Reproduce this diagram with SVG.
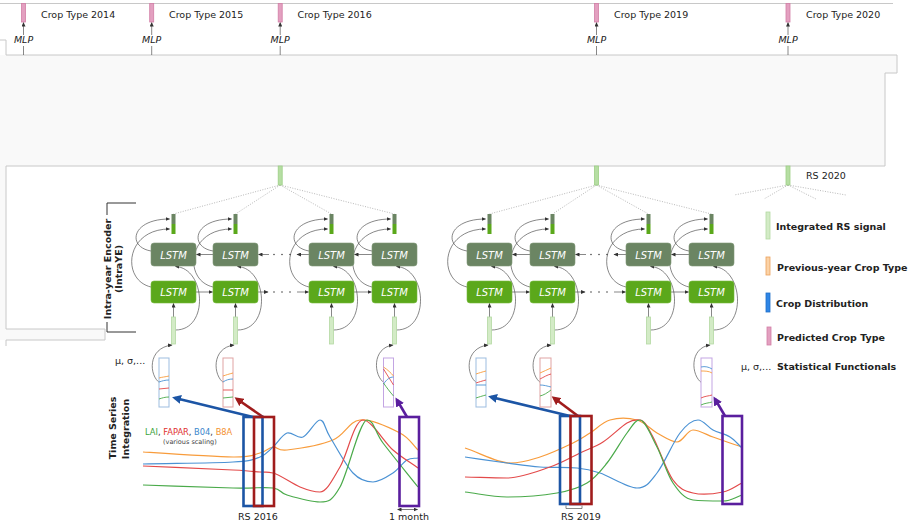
<svg xmlns="http://www.w3.org/2000/svg" width="908" height="522" viewBox="0 0 908 522">
<defs>
<style>
text{font-family:"DejaVu Sans",Verdana,sans-serif;fill:#222}
.lbl{font-size:9.5px}
.it{font-size:9.5px;font-style:italic}
.bold{font-size:9.5px;font-weight:bold}
.lstm{font-size:10px;font-style:italic;fill:#fff;text-anchor:middle}
.frame{fill:none;stroke:#c8c8c8;stroke-width:1}
.dkbox{fill:#6b8563;stroke:#7f9877;stroke-width:0.6}
.brbox{fill:#5ba81b;stroke:#78bb40;stroke-width:0.6}
.dkbar{fill:#6b8563}
.brbar{fill:#5ba81b}
.inbar{fill:#d3ebc6;stroke:#b3d9a2;stroke-width:0.8}
.rsbar{fill:#b6dea3;stroke:#9dcf86;stroke-width:0.8}
.pink{fill:#e3a0c0;stroke:#d27ea6;stroke-width:0.8}
.conn{fill:none;stroke:#555;stroke-width:0.7;marker-end:url(#ah)}
.plain{fill:none;stroke:#555;stroke-width:0.7}
.dot{fill:none;stroke:#999;stroke-width:0.7;stroke-dasharray:1 1.5}
.stat{fill:#fff;stroke-width:1}
.sig{fill:none;stroke-width:1.2}
.o{stroke:#f89c3c}.b{stroke:#4b92d4}.r{stroke:#e34a4a}.g{stroke:#4aaa4a}
.sl{fill:none;stroke-width:0.9}
.win{fill:none;stroke-width:2.6}
</style>
<marker id="ah" markerUnits="userSpaceOnUse" markerWidth="5" markerHeight="4" refX="4" refY="2" orient="auto"><path d="M0,0 L4.5,2 L0,4 z" fill="#333"/></marker>
<marker id="ahs" markerUnits="userSpaceOnUse" markerWidth="5" markerHeight="4" refX="0.5" refY="2" orient="auto-start-reverse"><path d="M0,0 L4.5,2 L0,4 z" fill="#333"/></marker>
<marker id="abl" markerUnits="userSpaceOnUse" markerWidth="10" markerHeight="9" refX="6" refY="4.5" orient="auto"><path d="M0,0 L9,4.5 L0,9 z" fill="#1c55a5"/></marker>
<marker id="ard" markerUnits="userSpaceOnUse" markerWidth="10" markerHeight="9" refX="6" refY="4.5" orient="auto"><path d="M0,0 L9,4.5 L0,9 z" fill="#a01c1c"/></marker>
<marker id="apu" markerUnits="userSpaceOnUse" markerWidth="10" markerHeight="9" refX="6" refY="4.5" orient="auto"><path d="M0,0 L9,4.5 L0,9 z" fill="#5a1e9e"/></marker>
</defs>

<rect width="908" height="522" fill="#fff"/>

<!-- inter-year panel background and outline -->
<g id="panel">
<polygon points="0,55 897,55 897,73 885,73 885,166 6,166 6,329 105,329 105,340 0,340" fill="#f9f9f9"/>
<rect x="6" y="166" width="879" height="163" fill="#fff"/>
<line x1="0" y1="3.5" x2="893" y2="3.5" class="frame"/>
<polyline class="frame" points="0,40 6,40 6,55 897,55 897,73 885,73 885,166 6,166 6,329 105,329 105,340 6,340 6,346"/>
</g>

<!-- connectors -->
<g id="connectors">
<!-- MLP heads -->
<g>
<path class="plain" d="M23.5,55 V46"/><path class="conn" d="M23.5,35 V22.5"/>
<path class="plain" d="M151.7,55 V46"/><path class="conn" d="M151.7,35 V22.5"/>
<path class="plain" d="M280.2,55 V46"/><path class="conn" d="M280.2,35 V22.5"/>
<path class="plain" d="M596.5,55 V46"/><path class="conn" d="M596.5,35 V22.5"/>
<path class="plain" d="M788,55 V46"/><path class="conn" d="M788,35 V22.5"/>
</g>
<!-- fan-out of integrated signal -->
<g>
<path class="dot" d="M280.2,185 L173.5,214 M280.2,185 L235.5,214 M280.2,185 L331.5,214 M280.2,185 L394.5,214"/>
<path class="dot" d="M596.5,185 L489.5,214 M596.5,185 L552.5,214 M596.5,185 L648.5,214 M596.5,185 L711.5,214"/>
<path class="dot" d="M788,185 L734,195 M788,185 L764,199 M788,185 L816,199 M788,185 L846,195"/>
</g>
<!-- LSTM outputs to hidden-state bars -->
<g>
<path class="conn" d="M151,251 C127,247 131,219 169.5,219"/>
<path class="conn" d="M213,251 C189,247 193,219 231.5,219"/>
<path class="conn" d="M309,251 C285,247 289,219 327.5,219"/>
<path class="conn" d="M372,251 C348,247 352,219 390.5,219"/>
<path class="conn" d="M467,251 C443,247 447,219 485.5,219"/>
<path class="conn" d="M530,251 C506,247 510,219 548.5,219"/>
<path class="conn" d="M626,251 C602,247 606,219 644.5,219"/>
<path class="conn" d="M689,251 C665,247 669,219 707.5,219"/>
<path class="conn" d="M151,287 C121,280 125,229 169.5,229"/>
<path class="conn" d="M213,287 C183,280 187,229 231.5,229"/>
<path class="conn" d="M309,287 C279,280 283,229 327.5,229"/>
<path class="conn" d="M372,287 C342,280 346,229 390.5,229"/>
<path class="conn" d="M467,287 C437,280 441,229 485.5,229"/>
<path class="conn" d="M530,287 C500,280 504,229 548.5,229"/>
<path class="conn" d="M626,287 C596,280 600,229 644.5,229"/>
<path class="conn" d="M689,287 C659,280 663,229 707.5,229"/>
</g>
<!-- inputs into both LSTM directions -->
<g>
<path class="conn" d="M173.5,317 V303.5"/><path class="conn" d="M235.5,317 V303.5"/>
<path class="conn" d="M331.5,317 V303.5"/><path class="conn" d="M394.5,317 V303.5"/>
<path class="conn" d="M489.5,317 V303.5"/><path class="conn" d="M552.5,317 V303.5"/>
<path class="conn" d="M648.5,317 V303.5"/><path class="conn" d="M711.5,317 V303.5"/>
<path class="conn" d="M175.5,330 C209.5,330 205.5,268 175.5,266.5"/>
<path class="conn" d="M237.5,330 C271.5,330 267.5,268 237.5,266.5"/>
<path class="conn" d="M333.5,330 C367.5,330 363.5,268 333.5,266.5"/>
<path class="conn" d="M396.5,330 C430.5,330 426.5,268 396.5,266.5"/>
<path class="conn" d="M491.5,330 C525.5,330 521.5,268 491.5,266.5"/>
<path class="conn" d="M554.5,330 C588.5,330 584.5,268 554.5,266.5"/>
<path class="conn" d="M650.5,330 C684.5,330 680.5,268 650.5,266.5"/>
<path class="conn" d="M713.5,330 C747.5,330 743.5,268 713.5,266.5"/>
</g>
<!-- recurrent links, forward (light) and backward (dark) -->
<g>
<path class="conn" d="M196,292 H212.5"/><path class="conn" d="M258,292 H268"/><path class="conn" d="M297,292 H308.5"/><path class="conn" d="M354,292 H371.5"/>
<path class="conn" d="M213,254.5 H196.5"/><path class="conn" d="M269,254.5 H258.5"/><path class="conn" d="M309,254.5 H297"/><path class="conn" d="M372,254.5 H354.5"/>
<path class="conn" d="M512,292 H529.5"/><path class="conn" d="M575,292 H585"/><path class="conn" d="M614,292 H625.5"/><path class="conn" d="M671,292 H688.5"/>
<path class="conn" d="M530,254.5 H512.5"/><path class="conn" d="M586,254.5 H575.5"/><path class="conn" d="M626,254.5 H614"/><path class="conn" d="M689,254.5 H671.5"/>
<g fill="#444">
<circle cx="274" cy="292" r="0.8"/><circle cx="282" cy="292" r="0.8"/><circle cx="290" cy="292" r="0.8"/>
<circle cx="274" cy="254.5" r="0.8"/><circle cx="282" cy="254.5" r="0.8"/><circle cx="290" cy="254.5" r="0.8"/>
<circle cx="591" cy="292" r="0.8"/><circle cx="599" cy="292" r="0.8"/><circle cx="607" cy="292" r="0.8"/>
<circle cx="591" cy="254.5" r="0.8"/><circle cx="599" cy="254.5" r="0.8"/><circle cx="607" cy="254.5" r="0.8"/>
</g>
</g>
<!-- statistical functionals to input bars -->
<g>
<path class="conn" d="M160,383 C149,376 147,348 172,345"/>
<path class="conn" d="M224,383 C213,376 211,348 234,345"/>
<path class="conn" d="M384.5,383 C373.5,376 371.5,348 393,345"/>
<path class="conn" d="M477,383 C466,376 464,348 488,345"/>
<path class="conn" d="M541,383 C530,376 528,348 551,345"/>
<path class="conn" d="M702,383 C691,376 689,348 710,345"/>
</g>
<!-- window extraction arrows -->
<g>
<path class="win" stroke="#1c55a5" marker-end="url(#abl)" d="M253,417 L175,398"/>
<path class="win" stroke="#a01c1c" marker-end="url(#ard)" d="M263,417 L237,399"/>
<path class="win" stroke="#5a1e9e" marker-end="url(#apu)" d="M407,417 L397,400"/>
<path class="win" stroke="#1c55a5" marker-end="url(#abl)" d="M570,416 L491,397"/>
<path class="win" stroke="#a01c1c" marker-end="url(#ard)" d="M578,416 L554,398"/>
<path class="win" stroke="#5a1e9e" marker-end="url(#apu)" d="M725,416 L715,399"/>
</g>
</g>

<!-- predicted crop types -->
<g id="crop-2014"><rect class="pink" x="21.5" y="3.5" width="4" height="18.5"/><text class="lbl" x="41" y="17.5">Crop Type 2014</text><text class="it" x="23.5" y="43" text-anchor="middle">MLP</text></g>
<g id="crop-2015"><rect class="pink" x="149.7" y="3.5" width="4" height="18.5"/><text class="lbl" x="169" y="17.5">Crop Type 2015</text><text class="it" x="151.7" y="43" text-anchor="middle">MLP</text></g>
<g id="crop-2016"><rect class="pink" x="278.2" y="3.5" width="4" height="18.5"/><text class="lbl" x="297.5" y="17.5">Crop Type 2016</text><text class="it" x="280.2" y="43" text-anchor="middle">MLP</text></g>
<g id="crop-2019"><rect class="pink" x="594.5" y="3.5" width="4" height="18.5"/><text class="lbl" x="614" y="17.5">Crop Type 2019</text><text class="it" x="596.5" y="43" text-anchor="middle">MLP</text></g>
<g id="crop-2020"><rect class="pink" x="786" y="3.5" width="4" height="18.5"/><text class="lbl" x="806" y="17.5">Crop Type 2020</text><text class="it" x="788" y="43" text-anchor="middle">MLP</text></g>

<!-- integrated RS signals per year -->
<g id="rs-2016-signal"><rect class="rsbar" x="278.2" y="166" width="4" height="19"/></g>
<g id="rs-2019-signal"><rect class="rsbar" x="594.5" y="166" width="4" height="19"/></g>
<g id="rs-2020-signal"><rect class="rsbar" x="786" y="166" width="4" height="19"/><text class="lbl" x="806" y="178.5">RS 2020</text></g>

<!-- intra-year encoder label -->
<g id="intraye-label">
<path fill="none" stroke="#333" stroke-width="1" d="M136,203 H107 V215 M107,322 V332 H136"/>
<text class="bold" transform="translate(110.5,269) rotate(-90)" text-anchor="middle">Intra-year Encoder</text>
<text class="bold" transform="translate(121.5,269) rotate(-90)" text-anchor="middle">(IntraYE)</text>
</g>

<!-- encoder columns, year 2016 -->
<g id="enc16-t1">
<rect class="dkbar" x="171.5" y="214" width="4" height="10"/><rect class="brbar" x="171.5" y="224" width="4" height="10"/>
<rect class="dkbox" x="151" y="243" width="45" height="23" rx="3"/><text class="lstm" x="173.5" y="258.5">LSTM</text>
<rect class="brbox" x="151" y="281" width="45" height="22" rx="3"/><text class="lstm" x="173.5" y="296">LSTM</text>
<rect class="inbar" x="171.5" y="317" width="4" height="27"/>
</g>
<g id="enc16-t2">
<rect class="dkbar" x="233.5" y="214" width="4" height="10"/><rect class="brbar" x="233.5" y="224" width="4" height="10"/>
<rect class="dkbox" x="213" y="243" width="45" height="23" rx="3"/><text class="lstm" x="235.5" y="258.5">LSTM</text>
<rect class="brbox" x="213" y="281" width="45" height="22" rx="3"/><text class="lstm" x="235.5" y="296">LSTM</text>
<rect class="inbar" x="233.5" y="317" width="4" height="27"/>
</g>
<g id="enc16-t3">
<rect class="dkbar" x="329.5" y="214" width="4" height="10"/><rect class="brbar" x="329.5" y="224" width="4" height="10"/>
<rect class="dkbox" x="309" y="243" width="45" height="23" rx="3"/><text class="lstm" x="331.5" y="258.5">LSTM</text>
<rect class="brbox" x="309" y="281" width="45" height="22" rx="3"/><text class="lstm" x="331.5" y="296">LSTM</text>
<rect class="inbar" x="329.5" y="317" width="4" height="27"/>
</g>
<g id="enc16-t4">
<rect class="dkbar" x="392.5" y="214" width="4" height="10"/><rect class="brbar" x="392.5" y="224" width="4" height="10"/>
<rect class="dkbox" x="372" y="243" width="45" height="23" rx="3"/><text class="lstm" x="394.5" y="258.5">LSTM</text>
<rect class="brbox" x="372" y="281" width="45" height="22" rx="3"/><text class="lstm" x="394.5" y="296">LSTM</text>
<rect class="inbar" x="392.5" y="317" width="4" height="27"/>
</g>

<!-- encoder columns, year 2019 -->
<g id="enc19-t1">
<rect class="dkbar" x="487.5" y="214" width="4" height="10"/><rect class="brbar" x="487.5" y="224" width="4" height="10"/>
<rect class="dkbox" x="467" y="243" width="45" height="23" rx="3"/><text class="lstm" x="489.5" y="258.5">LSTM</text>
<rect class="brbox" x="467" y="281" width="45" height="22" rx="3"/><text class="lstm" x="489.5" y="296">LSTM</text>
<rect class="inbar" x="487.5" y="317" width="4" height="27"/>
</g>
<g id="enc19-t2">
<rect class="dkbar" x="550.5" y="214" width="4" height="10"/><rect class="brbar" x="550.5" y="224" width="4" height="10"/>
<rect class="dkbox" x="530" y="243" width="45" height="23" rx="3"/><text class="lstm" x="552.5" y="258.5">LSTM</text>
<rect class="brbox" x="530" y="281" width="45" height="22" rx="3"/><text class="lstm" x="552.5" y="296">LSTM</text>
<rect class="inbar" x="550.5" y="317" width="4" height="27"/>
</g>
<g id="enc19-t3">
<rect class="dkbar" x="646.5" y="214" width="4" height="10"/><rect class="brbar" x="646.5" y="224" width="4" height="10"/>
<rect class="dkbox" x="626" y="243" width="45" height="23" rx="3"/><text class="lstm" x="648.5" y="258.5">LSTM</text>
<rect class="brbox" x="626" y="281" width="45" height="22" rx="3"/><text class="lstm" x="648.5" y="296">LSTM</text>
<rect class="inbar" x="646.5" y="317" width="4" height="27"/>
</g>
<g id="enc19-t4">
<rect class="dkbar" x="709.5" y="214" width="4" height="10"/><rect class="brbar" x="709.5" y="224" width="4" height="10"/>
<rect class="dkbox" x="689" y="243" width="45" height="23" rx="3"/><text class="lstm" x="711.5" y="258.5">LSTM</text>
<rect class="brbox" x="689" y="281" width="45" height="22" rx="3"/><text class="lstm" x="711.5" y="296">LSTM</text>
<rect class="inbar" x="709.5" y="317" width="4" height="27"/>
</g>

<!-- statistical functional summaries -->
<g id="stat16-a"><rect class="stat" stroke="#9dbde0" x="159" y="358" width="10" height="49"/>
<path class="sl o" d="M159,378 C162,377 165,377 169,376"/><path class="sl b" d="M159,382 C162,381 165,380 169,380"/><path class="sl r" d="M159,389 L169,388"/><path class="sl g" d="M159,399 C162,398 165,397 169,397"/></g>
<g id="stat16-b"><rect class="stat" stroke="#e0a3a3" x="223" y="358" width="10" height="49"/>
<path class="sl o" d="M223,376 C226,375 229,374 233,373"/><path class="sl b" d="M223,382 C226,380 229,379 233,379"/><path class="sl r" d="M223,390 L233,390"/><path class="sl g" d="M223,398 L233,397"/></g>
<g id="stat16-c"><rect class="stat" stroke="#c3a5e3" x="383.5" y="358" width="10" height="49"/>
<path class="sl o" d="M383.5,367 C388,370 391,373 393.5,376"/><path class="sl r" d="M383.5,369 C387,374 390,380 393.5,385"/><path class="sl b" d="M383.5,384 C387,379 390,377 393.5,377"/><path class="sl g" d="M383.5,383 C387,388 390,392 393.5,396"/></g>
<g id="stat19-a"><rect class="stat" stroke="#9dbde0" x="476" y="358" width="10" height="49"/>
<path class="sl o" d="M476,374 C479,373 482,372 486,371"/><path class="sl r" d="M476,383 C479,382 482,381 486,380"/><path class="sl b" d="M476,385 L486,385"/><path class="sl g" d="M476,398 C479,397 482,396 486,395"/></g>
<g id="stat19-b"><rect class="stat" stroke="#e0a3a3" x="540" y="358" width="11" height="49"/>
<path class="sl o" d="M540,373 C544,371 547,370 551,368"/><path class="sl r" d="M540,379 C544,377 547,375 551,374"/><path class="sl b" d="M540,385 C544,385 547,386 551,387"/><path class="sl g" d="M540,396 C544,395 547,393 551,390"/></g>
<g id="stat19-c"><rect class="stat" stroke="#c3a5e3" x="701" y="358" width="11" height="49"/>
<path class="sl b" d="M701,367 C705,366 709,367 712,369"/><path class="sl o" d="M701,371 C705,371 709,371 712,373"/><path class="sl r" d="M701,398 C705,396 709,396 712,395"/><path class="sl g" d="M701,405 C705,403 709,403 712,402"/></g>
<text class="lbl" x="115" y="363.5">μ, σ,...</text>

<!-- time series integration -->
<g id="ts-label">
<text class="bold" transform="translate(115.5,428) rotate(-90)" text-anchor="middle">Time Series</text>
<text class="bold" transform="translate(128.5,429) rotate(-90)" text-anchor="middle">Integration</text>
<text x="145" y="435" style="font-size:8.3px"><tspan fill="#3aa33a">LAI</tspan><tspan fill="#333">, </tspan><tspan fill="#e03030">FAPAR</tspan><tspan fill="#333">, </tspan><tspan fill="#3b86cc">B04</tspan><tspan fill="#333">, </tspan><tspan fill="#f39030">B8A</tspan></text>
<text x="163" y="444" style="font-size:6.5px;fill:#444">(various scaling)</text>
</g>

<g id="ts-2016">
<path class="sig o" d="M143,452 C173,454 213.5,456.8 233,457 S253.3,454.7 260,453 S268.5,447.5 273,447 S277,451.2 287,450 S320.8,445 333,440 S348.8,421.2 360,420 S390.3,428 400,433 S412,444.3 418,450"/>
<path class="sig b" d="M143,464 C173,463.3 213.5,463.2 233,462 S253.3,459.5 260,457 S268.5,451 273,447 S282,434.7 287,433 S297.5,439.2 303,437 S315.5,420 320,420 S324.5,428.2 330,437 S345.8,465.5 353,473 S366.3,482 373,482 S387.3,476.7 393,473 S402.8,462.5 407,460 S414.3,458.7 418,458"/>
<path class="sig r" d="M143,466 C173,467.3 213.5,469 233,470 S253.3,471.5 260,472 S266.3,471.5 273,473 S292.2,483.8 300,487 S313.3,492 320,492 S332.8,479 340,467 S354.2,420 363,420 S383.8,442 393,450 S409.7,462 418,468"/>
<path class="sig g" d="M143,485 C173,486 211.3,487.5 233,488 S264,486.8 273,488 S279.2,492.7 287,495 S311.2,502 320,502 S332.2,500.7 340,487 S359.8,420 367,420 S374.5,431.8 383,443 S406.3,472.3 418,487"/>
<rect class="win" stroke="#1c55a5" x="243.5" y="417" width="19" height="89"/>
<rect class="win" stroke="#a01c1c" x="254" y="417" width="20" height="89"/>
<rect class="win" stroke="#5a1e9e" x="399.5" y="417" width="19.5" height="89"/>
<text class="lbl" x="238" y="520">RS 2016</text>
<path fill="none" stroke="#444" stroke-width="0.7" marker-start="url(#ahs)" marker-end="url(#ah)" d="M401,509.5 H417.5"/>
<text class="lbl" x="389" y="520">1 month</text>
</g>

<g id="ts-2019">
<path class="sig o" d="M465,448 C480,453 497.5,463 510,463 S529.5,460.3 540,457 S564.7,447 573,443 S583.8,436.8 590,433 S602.2,422.2 610,420 S629.2,418 637,420 S650.3,429.3 657,433 S671,442 677,442 S687,430 693,430 S706.8,434.8 713,437 S725.2,441.3 730,443 S738,445.7 742,447"/>
<path class="sig b" d="M465,457 C479,459 494.5,461.3 507,463 S528.3,466.2 540,467 S567,467 577,468 S590,469.7 600,473 S627.5,488 637,488 S649.8,482.2 657,473 S673.2,441.8 680,433 S692.5,420 698,420 S707.7,427.2 713,430 S725.2,434 730,437 S738,444.3 742,448"/>
<path class="sig r" d="M465,477 C479,477.3 492.8,478 507,478 S537.8,471.2 550,467 S571.2,457.2 580,453 S595.2,447 603,442 S620.8,426.7 627,423 S635.7,420 640,420 S647.5,427 653,437 S666.3,470.7 673,480 S684.7,491 693,493 S714.8,493.7 723,492 S735.7,486 742,483"/>
<path class="sig g" d="M465,492 C479,493.7 491.7,497 507,497 S543.7,495.3 557,493 S578.7,488 587,483 S600.3,471.3 607,463 S621.5,440.2 627,433 S635,420 640,420 S651.5,436.5 657,447 S667,474.2 673,483 S684.7,499 693,500 S714.8,501 723,501 S735.7,497 742,495"/>
<rect class="win" stroke="#1c55a5" x="560" y="416" width="20" height="88"/>
<rect class="win" stroke="#a01c1c" x="570.5" y="416" width="21" height="88"/>
<rect class="win" stroke="#5a1e9e" x="722.5" y="416" width="19.5" height="88"/>
<path fill="none" stroke="#555" stroke-width="0.7" d="M566,505.5 V508.5 H582 V505.5"/>
<text class="lbl" x="561" y="520">RS 2019</text>
</g>

<!-- legend -->
<g id="legend">
<rect class="inbar" x="766" y="212" width="4" height="27"/><text class="bold" x="776" y="229.5">Integrated RS signal</text>
<rect x="766" y="257" width="4" height="18" fill="#fbd2a6" stroke="#eba15c" stroke-width="0.8"/><text class="bold" x="777" y="270.5">Previous-year Crop Type</text>
<rect x="766" y="293" width="4" height="19" fill="#2f86e6" stroke="#1f6fc8" stroke-width="0.8"/><text class="bold" x="776" y="306.5">Crop Distribution</text>
<rect class="pink" x="767" y="327" width="4" height="18"/><text class="bold" x="777" y="340.5">Predicted Crop Type</text>
<text class="lbl" x="741" y="369.5">μ, σ,...</text><text class="bold" x="777" y="369.5">Statistical Functionals</text>
</g>
</svg>
